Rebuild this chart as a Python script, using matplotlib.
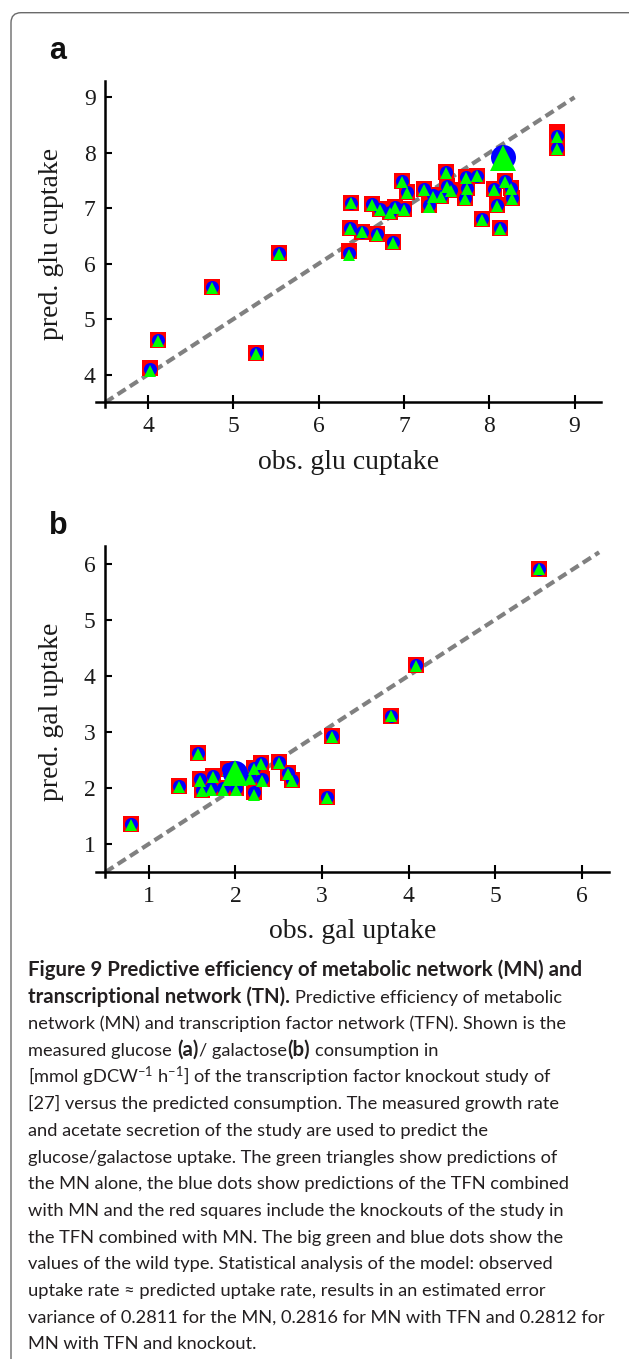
import matplotlib
matplotlib.use("Agg")
import matplotlib.pyplot as plt
from matplotlib.patches import FancyBboxPatch
from matplotlib.transforms import IdentityTransform

# ---- panel a: glucose uptake (obs. vs predicted) ----
glu_obs = [4.02, 4.12, 4.75, 5.27, 5.53, 6.35, 6.38, 6.37, 6.51, 6.63, 6.68, 6.72, 6.84,
           6.87, 6.90, 6.98, 7.00, 7.03, 7.23, 7.29, 7.34, 7.44, 7.49, 7.51, 7.55, 7.73,
           7.74, 7.72, 7.86, 7.92, 8.06, 8.09, 8.13, 8.19, 8.26, 8.27, 8.80, 8.80]
glu_ko = [4.12, 4.62, 5.58, 4.38, 6.19, 6.22, 7.10, 6.65, 6.58, 7.07, 6.53, 6.98, 6.94,
          6.39, 7.02, 7.50, 6.99, 7.30, 7.35, 7.05, 7.23, 7.22, 7.66, 7.40, 7.33, 7.57,
          7.36, 7.19, 7.59, 6.80, 7.34, 7.06, 6.65, 7.49, 7.36, 7.19, 8.38, 8.08]
glu_tfn = [4.10, 4.62, 5.58, 4.38, 6.19, 6.19, 7.10, 6.65, 6.58, 7.07, 6.53, 6.98, 6.94,
           6.39, 7.02, 7.50, 6.99, 7.30, 7.35, 7.05, 7.23, 7.22, 7.66, 7.40, 7.33, 7.57,
           7.36, 7.19, 7.59, 6.80, 7.34, 7.06, 6.65, 7.49, 7.36, 7.19, 8.31, 8.08]
glu_mn = [4.07, 4.60, 5.57, 4.37, 6.18, 6.16, 7.09, 6.63, 6.57, 7.06, 6.51, 6.96, 6.92,
          6.38, 7.01, 7.48, 6.97, 7.28, 7.33, 7.03, 7.21, 7.21, 7.64, 7.38, 7.31, 7.55,
          7.34, 7.17, 7.58, 6.78, 7.32, 7.04, 6.63, 7.47, 7.34, 7.17, 8.28, 8.06]
glu_wt_obs, glu_wt_tfn, glu_wt_mn = 8.16, 7.93, 7.91

# ---- panel b: galactose uptake ----
gal_obs = [0.80, 1.35, 1.57, 1.59, 1.62, 1.74, 1.72, 1.86, 1.91, 2.01, 2.21, 2.21, 2.30,
           2.31, 2.17, 2.50, 2.61, 2.65, 3.06, 3.12, 3.80, 4.09, 5.50]
gal_ko = [1.36, 2.04, 2.62, 2.15, 1.96, 2.22, 1.99, 1.99, 2.33, 1.99, 1.93, 2.35, 2.44,
          2.15, 2.18, 2.47, 2.27, 2.14, 1.83, 2.92, 3.29, 4.19, 5.91]
gal_tfn = [1.36, 2.04, 2.62, 2.15, 1.96, 2.22, 1.99, 1.99, 2.33, 1.99, 1.93, 2.35, 2.44,
           2.15, 2.18, 2.47, 2.27, 2.14, 1.83, 2.92, 3.29, 4.19, 5.91]
gal_mn = [1.34, 2.02, 2.60, 2.13, 1.94, 2.20, 1.97, 1.97, 2.31, 1.97, 1.87, 2.33, 2.42,
          2.13, 2.16, 2.45, 2.25, 2.12, 1.82, 2.90, 3.28, 4.17, 5.90]
gal_wt_obs, gal_wt_tfn, gal_wt_mn = 1.99, 2.27, 2.26

# caption: one list of (text, bold?) pieces per line; a leading space means a word gap
caption = [
    [("Figure 9 Predictive efficiency of metabolic network (MN) and", True)],
    [("transcriptional network (TN).", True), (" Predictive efficiency of metabolic", False)],
    [("network (MN) and transcription factor network (TFN). Shown is the", False)],
    [("measured glucose", False), (" (a)", True), ("/ galactose", False), ("(b)", True),
     (" consumption in", False)],
    [(r"[mmol gDCW$^{-1}$ h$^{-1}$] of the transcription factor knockout study of", False)],
    [("[27] versus the predicted consumption. The measured growth rate", False)],
    [("and acetate secretion of the study are used to predict the", False)],
    [("glucose/galactose uptake. The green triangles show predictions of", False)],
    [("the MN alone, the blue dots show predictions of the TFN combined", False)],
    [("with MN and the red squares include the knockouts of the study in", False)],
    [("the TFN combined with MN. The big green and blue dots show the", False)],
    [("values of the wild type. Statistical analysis of the model: observed", False)],
    [("uptake rate \u2248 predicted uptake rate, results in an estimated error", False)],
    [("variance of 0.2811 for the MN, 0.2816 for MN with TFN and 0.2812 for", False)],
    [("MN with TFN and knockout.", False)],
]

plt.rcParams['mathtext.fontset'] = 'custom'
plt.rcParams['mathtext.rm'] = 'Lato'
plt.rcParams['mathtext.bf'] = 'Lato:bold'
plt.rcParams['mathtext.it'] = 'Lato:italic'

W, H = 629, 1359
fig = plt.figure(figsize=(W / 100, H / 100), dpi=100)

# rounded frame around the whole figure (open to the right and bottom)
frame = FancyBboxPatch((11, -30), W + 40, H - 12.7 + 30,
                       boxstyle="round,pad=0,rounding_size=10",
                       transform=IdentityTransform(), fill=False,
                       edgecolor='#6a6a6a', linewidth=1.0)
fig.add_artist(frame)

serif = 'Liberation Serif'


def scatter_panel(rect, lims, spine_at, ticks, obs, ko, tfn, mn, wt, diag_end,
                  xlabel, ylabel, xlab_y, ylab_x):
    # rect in pixels: left, top, right, bottom
    l, t, r, b = rect
    ax = fig.add_axes([l / W, 1 - b / H, (r - l) / W, (b - t) / H])
    ax.plot([spine_at, diag_end], [spine_at, diag_end], color='#808080', lw=3.0,
            dashes=(2.3, 1.2), zorder=1, solid_capstyle='butt')
    ax.plot(obs, ko, 's', color='#ff0000', ms=11.5, mew=0, zorder=2)
    ax.plot(obs, tfn, 'o', color='#0000ff', ms=9.4, mew=0, zorder=3)
    ax.plot(obs, mn, '^', color='#00ff00', ms=8.6, mew=0, zorder=4)
    ax.plot([wt[0]], [wt[1]], 'o', color='#0000ff', ms=18, mew=0, zorder=5)
    ax.plot([wt[0]], [wt[2]], '^', color='#00ff00', ms=19, mew=0, zorder=6)

    ax.set_xlim(lims[0], lims[1])
    ax.set_ylim(lims[2], lims[3])
    for s in ['top', 'right']:
        ax.spines[s].set_visible(False)
    for s in ['left', 'bottom']:
        ax.spines[s].set_position(('data', spine_at))
        ax.spines[s].set_linewidth(1.8)
    ax.set_xticks(ticks)
    ax.set_yticks(ticks)
    ax.tick_params(axis='x', direction='inout', length=10, width=1.5, pad=5,
                   labelsize=17, labelcolor='#1a1a1a')
    ax.tick_params(axis='y', direction='in', length=5, width=1.5, pad=7,
                   labelsize=17, labelcolor='#1a1a1a')
    for lab in ax.get_xticklabels() + ax.get_yticklabels():
        lab.set_family(serif)
    ax.set_xlabel(xlabel, family=serif, fontsize=20, color='#1a1a1a')
    ax.set_ylabel(ylabel, family=serif, fontsize=20, color='#1a1a1a')
    ax.xaxis.set_label_coords(0.5, (b - xlab_y) / (b - t))
    ax.xaxis.label.set_va('center')
    ax.yaxis.set_label_coords((ylab_x - l) / (r - l), 0.5)
    ax.yaxis.label.set_va('center')
    return ax


scatter_panel((96, 80.7, 601, 407), (3.39, 9.31, 3.415, 9.30), 3.5, range(4, 10),
              glu_obs, glu_ko, glu_tfn, glu_mn, (glu_wt_obs, glu_wt_tfn, glu_wt_mn), 9.0,
              'obs. glu cuptake', 'pred. glu cuptake', 462, 52)
scatter_panel((96.3, 546, 609, 877.3), (0.394, 6.314, 0.406, 6.312), 0.5, range(1, 7),
              gal_obs, gal_ko, gal_tfn, gal_mn, (gal_wt_obs, gal_wt_tfn, gal_wt_mn), 6.2,
              'obs. gal uptake', 'pred. gal uptake', 931, 52)

fig.text(49 / W, 1 - 59 / H, 'a', family='Liberation Sans', weight='bold',
         fontsize=22, va='baseline', color='#111111')
fig.text(49 / W, 1 - 534 / H, 'b', family='Liberation Sans', weight='bold',
         fontsize=22, va='baseline', color='#111111')

# caption, drawn piece by piece so bold and regular runs sit side by side
renderer = fig.canvas.get_renderer()
cap_font = ['Lato', 'DejaVu Sans']
reg_size, bold_size = 13.15, 14.7


def text_width(s, bold):
    t = fig.text(0, 0, s, family=cap_font, weight='bold' if bold else 'normal',
                 fontsize=bold_size if bold else reg_size)
    w = t.get_window_extent(renderer=renderer).width
    t.remove()
    return w


space_w = {b: text_width('n n', b) - text_width('nn', b) for b in (False, True)}

for i, line in enumerate(caption):
    y = 976 + 26.67 * i
    x = 28.0
    for txt, bold in line:
        if txt.startswith(' '):
            x += space_w[bold]
            txt = txt[1:]
        t = fig.text(x / W, 1 - y / H, txt, family=cap_font,
                     weight='bold' if bold else 'normal',
                     fontsize=bold_size if bold else reg_size,
                     va='baseline', color='#231f20')
        x += t.get_window_extent(renderer=renderer).width + 0.5

fig.savefig('out.png', dpi=100)
